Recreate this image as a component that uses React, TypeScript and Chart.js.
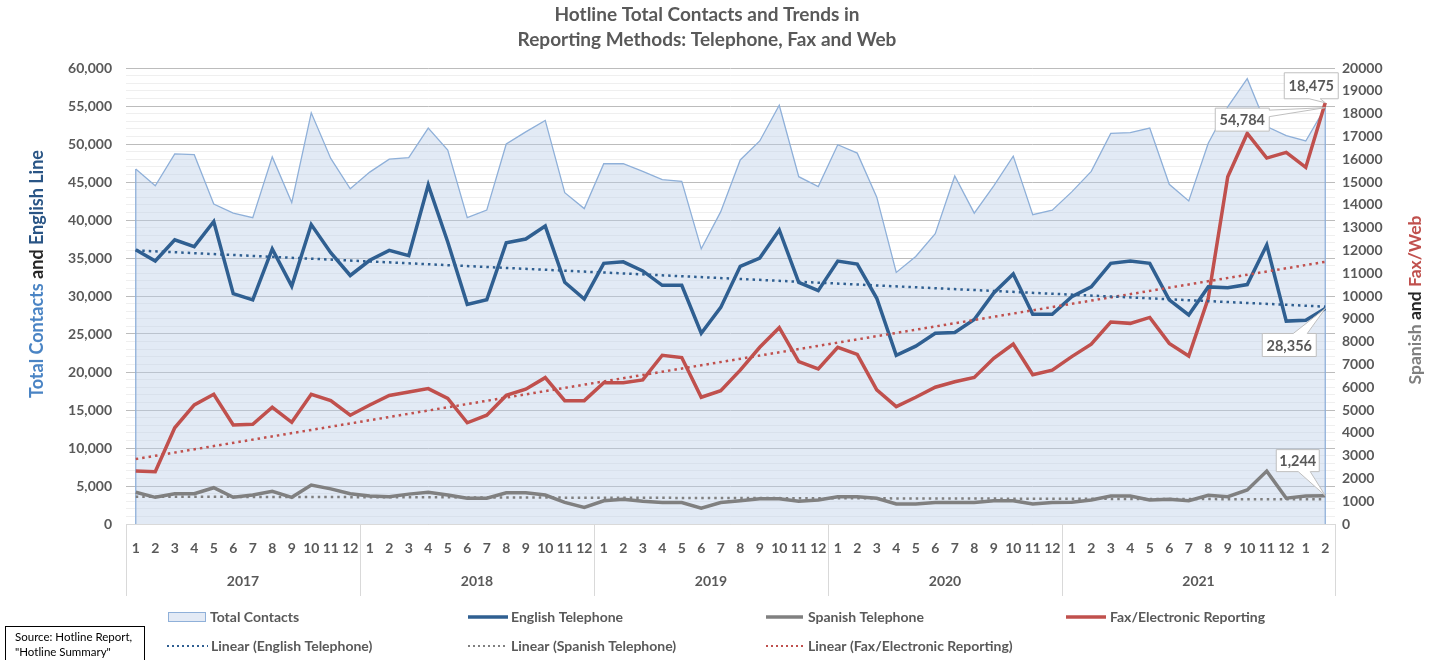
import React, { useEffect, useRef } from "react";
import { Chart, registerables } from "chart.js";

Chart.register(...registerables);

const FONT = "Lato, 'Open Sans', 'DejaVu Sans', sans-serif";
const TEXT = "#595959";

// ---- categories ----
const monthLabels = [
  "1", "2", "3", "4", "5", "6", "7", "8", "9", "10", "11", "12",
  "1", "2", "3", "4", "5", "6", "7", "8", "9", "10", "11", "12",
  "1", "2", "3", "4", "5", "6", "7", "8", "9", "10", "11", "12",
  "1", "2", "3", "4", "5", "6", "7", "8", "9", "10", "11", "12",
  "1", "2", "3", "4", "5", "6", "7", "8", "9", "10", "11", "12",
  "1", "2",
];
const yearLabels = ["2017", "2018", "2019", "2020", "2021"];
const yearSpans = [12, 12, 12, 12, 14];

// ---- series (left axis) ----
const totalContacts = [
  46700, 44500, 48700, 48600, 42100, 40900, 40300, 48300, 42300, 54100, 48100, 44100,
  46300, 48000, 48200, 52100, 49200, 40300, 41300, 50000, 51600, 53100, 43600, 41500,
  47400, 47400, 46400, 45300, 45100, 36200, 41100, 47900, 50400, 55100, 45700, 44400,
  49900, 48800, 43000, 33100, 35200, 38200, 45800, 40900, 44500, 48400, 40700, 41300,
  43700, 46400, 51400, 51500, 52100, 44700, 42500, 50100, 54900, 58600, 52300, 51100,
  50400, 54784,
];
const englishTelephone = [
  36100, 34600, 37400, 36500, 39800, 30300, 29500, 36200, 31300, 39400, 35700, 32700,
  34700, 36000, 35300, 44600, 37100, 28900, 29500, 37000, 37500, 39200, 31800, 29600,
  34300, 34500, 33300, 31400, 31400, 25100, 28500, 33900, 35000, 38700, 31800, 30700,
  34600, 34200, 29700, 22200, 23400, 25100, 25200, 26900, 30400, 32900, 27600, 27600,
  29900, 31200, 34300, 34600, 34300, 29500, 27500, 31200, 31100, 31500, 36700, 26700,
  26800, 28356,
];

// ---- series (right axis) ----
const spanishTelephone = [
  1390, 1170, 1330, 1330, 1590, 1170, 1270, 1430, 1170, 1710, 1540, 1330,
  1230, 1200, 1310, 1390, 1270, 1130, 1130, 1370, 1370, 1270, 950, 730,
  1020, 1080, 1000, 940, 940, 690, 940, 1020, 1110, 1110, 1000, 1050,
  1190, 1200, 1130, 880, 880, 940, 940, 940, 1020, 1020, 880, 940,
  950, 1050, 1230, 1230, 1050, 1080, 1020, 1260, 1200, 1490, 2320, 1130,
  1230, 1244,
];
const faxElectronic = [
  2320, 2290, 4220, 5220, 5690, 4340, 4370, 5120, 4460, 5690, 5410, 4770,
  5220, 5640, 5790, 5940, 5510, 4440, 4770, 5640, 5910, 6420, 5410, 5410,
  6200, 6200, 6320, 7400, 7300, 5560, 5850, 6750, 7750, 8610, 7120, 6800,
  7750, 7440, 5880, 5150, 5560, 6000, 6240, 6430, 7270, 7890, 6550, 6750,
  7340, 7890, 8860, 8800, 9060, 7920, 7370, 9900, 15230, 17130, 16050, 16300,
  15640, 18475,
];

// ---- linear trend end values (first / last month) ----
const englishTrendEnds = [36000, 28600];
const spanishTrendEnds = [1200, 1080];
const faxTrendEnds = [2850, 11500];

// ---- axes ----
const leftMax = 60000;
const leftStep = 1000;
const leftMajor = 5000;
const rightMax = 20000;
const rightStep = 1000;

const COLORS = {
  areaFill: "rgba(186,204,232,0.42)",
  areaLine: "#8fb0d9",
  english: "#2f5f91",
  spanish: "#808080",
  fax: "#c0504d",
};

function trendSeries(ends: number[]) {
  const n = monthLabels.length;
  return monthLabels.map((_, i) => (i === 0 ? ends[0] : i === n - 1 ? ends[1] : null));
}

function callout(
  ctx: CanvasRenderingContext2D,
  text: string,
  ax: number,
  ay: number,
  x0: number,
  y0: number,
  w: number,
  h: number,
  side: "top" | "bottom" | "right",
  b1: number,
  b2: number
) {
  const x1 = x0 + w;
  const y1 = y0 + h;
  ctx.save();
  ctx.beginPath();
  if (side === "bottom") {
    ctx.moveTo(x0, y0);
    ctx.lineTo(x1, y0);
    ctx.lineTo(x1, y1);
    ctx.lineTo(b2, y1);
    ctx.lineTo(ax, ay);
    ctx.lineTo(b1, y1);
    ctx.lineTo(x0, y1);
  } else if (side === "top") {
    ctx.moveTo(x0, y0);
    ctx.lineTo(b1, y0);
    ctx.lineTo(ax, ay);
    ctx.lineTo(b2, y0);
    ctx.lineTo(x1, y0);
    ctx.lineTo(x1, y1);
    ctx.lineTo(x0, y1);
  } else {
    ctx.moveTo(x0, y0);
    ctx.lineTo(x1, y0);
    ctx.lineTo(x1, b1);
    ctx.lineTo(ax, ay);
    ctx.lineTo(x1, b2);
    ctx.lineTo(x1, y1);
    ctx.lineTo(x0, y1);
  }
  ctx.closePath();
  ctx.fillStyle = "#ffffff";
  ctx.fill();
  ctx.strokeStyle = "#bfbfbf";
  ctx.lineWidth = 1;
  ctx.stroke();
  ctx.fillStyle = TEXT;
  ctx.font = `bold 14.5px ${FONT}`;
  ctx.textAlign = "center";
  ctx.textBaseline = "middle";
  ctx.fillText(text, x0 + w / 2, y0 + h / 2 + 1);
  ctx.restore();
}

function multiColorText(
  ctx: CanvasRenderingContext2D,
  parts: [string, string][],
  cx: number,
  cy: number,
  font: string
) {
  ctx.save();
  ctx.translate(cx, cy);
  ctx.rotate(-Math.PI / 2);
  ctx.font = font;
  ctx.textBaseline = "middle";
  ctx.textAlign = "left";
  const total = parts.reduce((s, p) => s + ctx.measureText(p[0]).width, 0);
  let x = -total / 2;
  for (const [t, c] of parts) {
    ctx.fillStyle = c;
    ctx.fillText(t, x, 0);
    x += ctx.measureText(t).width;
  }
  ctx.restore();
}

const decorPlugin = {
  id: "decor",
  afterDatasetDraw(chart: any, args: any) {
    if (args.index !== 0) return;
    const { ctx, chartArea } = chart;
    const pts = args.meta.data;
    const first = pts[0];
    const last = pts[pts.length - 1];
    ctx.save();
    ctx.strokeStyle = COLORS.areaLine;
    ctx.lineWidth = 1.3;
    ctx.beginPath();
    ctx.moveTo(first.x, first.y);
    ctx.lineTo(first.x, chartArea.bottom);
    ctx.moveTo(last.x, last.y);
    ctx.lineTo(last.x, chartArea.bottom);
    ctx.stroke();
    ctx.restore();
  },
  afterDraw(chart: any) {
    const { ctx, chartArea } = chart;
    const xs = chart.scales.x;
    const band = xs.getPixelForValue(1) - xs.getPixelForValue(0);

    ctx.save();
    // title
    ctx.fillStyle = TEXT;
    ctx.font = `bold 19px ${FONT}`;
    ctx.textAlign = "center";
    ctx.textBaseline = "middle";
    ctx.fillText("Hotline Total Contacts and Trends in", 707, 15);
    ctx.fillText("Reporting Methods: Telephone, Fax and Web", 707, 40);

    // axis titles
    multiColorText(
      ctx,
      [
        ["Total Contacts ", "#4a84c4"],
        ["and ", "#262626"],
        ["English Line", "#2a5585"],
      ],
      37,
      274,
      `bold 18px ${FONT}`
    );
    multiColorText(
      ctx,
      [
        ["Spanish ", "#7f7f7f"],
        ["and ", "#262626"],
        ["Fax/Web", "#c0504d"],
      ],
      1415,
      300,
      `bold 17.5px ${FONT}`
    );

    // bottom axis line
    ctx.strokeStyle = "#d9d9d9";
    ctx.lineWidth = 1;
    ctx.beginPath();
    ctx.moveTo(chartArea.left, chartArea.bottom + 0.5);
    ctx.lineTo(chartArea.right, chartArea.bottom + 0.5);
    ctx.stroke();

    // month labels
    ctx.fillStyle = TEXT;
    ctx.font = `bold 14px ${FONT}`;
    ctx.textAlign = "center";
    ctx.textBaseline = "middle";
    monthLabels.forEach((m, i) => {
      ctx.fillText(m, xs.getPixelForValue(i), chartArea.bottom + 24);
    });

    // year groups
    let start = 0;
    ctx.strokeStyle = "#d9d9d9";
    yearLabels.forEach((y, gi) => {
      const end = start + yearSpans[gi] - 1;
      const left = xs.getPixelForValue(start) - band / 2;
      const right = xs.getPixelForValue(end) + band / 2;
      ctx.beginPath();
      ctx.moveTo(Math.round(left) + 0.5, chartArea.bottom);
      ctx.lineTo(Math.round(left) + 0.5, chartArea.bottom + 72);
      if (gi === yearLabels.length - 1) {
        ctx.moveTo(Math.round(right) + 0.5, chartArea.bottom);
        ctx.lineTo(Math.round(right) + 0.5, chartArea.bottom + 72);
      }
      ctx.stroke();
      ctx.fillText(y, (left + right) / 2, chartArea.bottom + 57);
      start = end + 1;
    });

    // callouts
    const lastIdx = monthLabels.length - 1;
    const pFax = chart.getDatasetMeta(3).data[lastIdx];
    const pTot = chart.getDatasetMeta(0).data[lastIdx];
    const pEng = chart.getDatasetMeta(1).data[lastIdx];
    const pSpa = chart.getDatasetMeta(2).data[lastIdx];
    callout(ctx, "54,784", pTot.x, pTot.y, pTot.x - 110, pTot.y + 0.5, 54, 23, "right", pTot.y + 2.5, pTot.y + 9);
    callout(ctx, "18,475", pFax.x, pFax.y, pFax.x - 41, pFax.y - 30, 54, 26, "bottom", pFax.x - 16, pFax.x - 5);
    callout(ctx, "28,356", pEng.x, pEng.y, pEng.x - 63, pEng.y + 25, 54, 23, "top", pEng.x - 32, pEng.x - 18);
    callout(ctx, "1,244", pSpa.x, pSpa.y, pSpa.x - 49, pSpa.y - 46, 43, 22, "bottom", pSpa.x - 27, pSpa.x - 15);

    // legend
    const row1 = 617;
    const row2 = 646;
    ctx.font = `bold 14px ${FONT}`;
    ctx.textAlign = "left";
    ctx.textBaseline = "middle";
    const legendText = (t: string, x: number, y: number) => {
      ctx.fillStyle = TEXT;
      ctx.fillText(t, x, y);
    };
    ctx.fillStyle = "#e3eaf5";
    ctx.fillRect(168.5, row1 - 4.5, 37, 9);
    ctx.strokeStyle = COLORS.areaLine;
    ctx.lineWidth = 1;
    ctx.strokeRect(168.5, row1 - 4.5, 37, 9);
    legendText("Total Contacts", 210, row1);

    const solid = (x: number, w: number, y: number, c: string) => {
      ctx.save();
      ctx.strokeStyle = c;
      ctx.lineWidth = 3.5;
      ctx.beginPath();
      ctx.moveTo(x, y);
      ctx.lineTo(x + w, y);
      ctx.stroke();
      ctx.restore();
    };
    const dotted = (x: number, w: number, y: number, c: string) => {
      ctx.save();
      ctx.strokeStyle = c;
      ctx.lineWidth = 2;
      ctx.setLineDash([2, 3]);
      ctx.beginPath();
      ctx.moveTo(x, y);
      ctx.lineTo(x + w, y);
      ctx.stroke();
      ctx.restore();
    };
    solid(468, 40, row1, COLORS.english);
    legendText("English Telephone", 511, row1);
    solid(766, 37, row1, COLORS.spanish);
    legendText("Spanish Telephone", 808, row1);
    solid(1066, 40, row1, COLORS.fax);
    legendText("Fax/Electronic Reporting", 1110, row1);

    dotted(167, 41, row2, COLORS.english);
    legendText("Linear (English Telephone)", 211, row2);
    dotted(468, 40, row2, COLORS.spanish);
    legendText("Linear (Spanish Telephone)", 511, row2);
    dotted(766, 37, row2, COLORS.fax);
    legendText("Linear (Fax/Electronic Reporting)", 808, row2);

    // source box
    ctx.fillStyle = "#ffffff";
    ctx.fillRect(5.5, 626.5, 139, 40);
    ctx.strokeStyle = "#000000";
    ctx.lineWidth = 1;
    ctx.strokeRect(5.5, 626.5, 139, 40);
    ctx.fillStyle = "#000000";
    ctx.font = `11.5px ${FONT}`;
    ctx.fillText("Source: Hotline Report,", 15, 637);
    ctx.fillText('"Hotline Summary"', 15, 652);

    ctx.restore();
  },
};

export default function App() {
  const ref = useRef<HTMLCanvasElement | null>(null);

  useEffect(() => {
    if (!ref.current) return;
    const tickFont = { family: FONT, size: 14, weight: "bold" as const };
    const chart = new Chart(ref.current, {
      type: "line",
      data: {
        labels: monthLabels,
        datasets: [
          {
            label: "Total Contacts",
            data: totalContacts,
            yAxisID: "y",
            fill: "origin",
            backgroundColor: COLORS.areaFill,
            borderColor: COLORS.areaLine,
            borderWidth: 1.3,
            pointRadius: 0,
            tension: 0,
            order: 5,
          },
          {
            label: "English Telephone",
            data: englishTelephone,
            yAxisID: "y",
            borderColor: COLORS.english,
            borderWidth: 3.5,
            pointRadius: 0,
            fill: false,
            order: 2,
          },
          {
            label: "Spanish Telephone",
            data: spanishTelephone,
            yAxisID: "y2",
            borderColor: COLORS.spanish,
            borderWidth: 3.5,
            pointRadius: 0,
            fill: false,
            order: 2,
          },
          {
            label: "Fax/Electronic Reporting",
            data: faxElectronic,
            yAxisID: "y2",
            borderColor: COLORS.fax,
            borderWidth: 3.5,
            pointRadius: 0,
            fill: false,
            order: 2,
          },
          {
            label: "Linear (English Telephone)",
            data: trendSeries(englishTrendEnds),
            yAxisID: "y",
            borderColor: COLORS.english,
            borderWidth: 2.5,
            borderDash: [2.5, 4],
            spanGaps: true,
            pointRadius: 0,
            fill: false,
            order: 1,
          },
          {
            label: "Linear (Spanish Telephone)",
            data: trendSeries(spanishTrendEnds),
            yAxisID: "y2",
            borderColor: COLORS.spanish,
            borderWidth: 2.5,
            borderDash: [2.5, 4],
            spanGaps: true,
            pointRadius: 0,
            fill: false,
            order: 1,
          },
          {
            label: "Linear (Fax/Electronic Reporting)",
            data: trendSeries(faxTrendEnds),
            yAxisID: "y2",
            borderColor: COLORS.fax,
            borderWidth: 2.5,
            borderDash: [2.5, 4],
            spanGaps: true,
            pointRadius: 0,
            fill: false,
            order: 1,
          },
        ],
      },
      options: {
        responsive: false,
        animation: false,
        layout: { padding: { top: 68, bottom: 136, left: 0, right: 0 } },
        plugins: {
          legend: { display: false },
          title: { display: false },
          tooltip: { enabled: false },
        },
        scales: {
          x: { type: "category", offset: true, display: false },
          y: {
            position: "left",
            min: 0,
            max: leftMax,
            ticks: {
              stepSize: leftStep,
              autoSkip: false,
              padding: 14,
              color: TEXT,
              font: tickFont,
              callback: (v: any) =>
                Number(v) % leftMajor === 0 ? Number(v).toLocaleString("en-US") : "",
            },
            grid: {
              drawTicks: false,
              color: (c: any) => (c.tick && c.tick.value % leftMajor === 0 ? "#bcbcbc" : "#efefef"),
              lineWidth: 1,
            },
            border: { display: false },
            afterFit: (s: any) => {
              s.width = 126;
            },
          },
          y2: {
            position: "right",
            min: 0,
            max: rightMax,
            ticks: {
              stepSize: rightStep,
              autoSkip: false,
              padding: 7,
              color: TEXT,
              font: tickFont,
              callback: (v: any) => String(v),
            },
            grid: { drawOnChartArea: false, drawTicks: false },
            border: { display: false },
            afterFit: (s: any) => {
              s.width = 100;
            },
          },
        },
      },
      plugins: [decorPlugin],
    });
    return () => chart.destroy();
  }, []);

  return (
    <div style={{ position: "absolute", left: 0, top: 0, width: 1435, height: 660, background: "#fff" }}>
      <canvas ref={ref} width={1435} height={660} style={{ display: "block", width: 1435, height: 660 }} />
    </div>
  );
}
